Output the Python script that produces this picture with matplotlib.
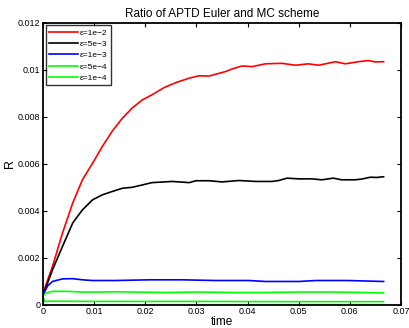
import matplotlib
matplotlib.use("Agg")
import matplotlib.pyplot as plt

plt.rcParams['font.family'] = ['Liberation Sans', 'DejaVu Sans']

# === Dados ===
t_red = [0, 0.00185, 0.0038, 0.0058, 0.0077, 0.0097, 0.0116, 0.0135, 0.0155, 0.0174,
         0.0194, 0.0213, 0.0237, 0.0260, 0.0286, 0.0305, 0.0325, 0.0345, 0.0357, 0.0370,
         0.0389, 0.0409, 0.0435, 0.0467, 0.0494, 0.0519, 0.0539, 0.0572, 0.0591, 0.0617,
         0.0636, 0.0650, 0.0666]
r_red = [0.0005, 0.00163, 0.00305, 0.00433, 0.00532, 0.00603, 0.00674, 0.00738, 0.00794, 0.00837,
         0.00872, 0.00894, 0.00925, 0.00946, 0.00965, 0.00975, 0.00974, 0.00986, 0.00993, 0.01004,
         0.01017, 0.01014, 0.01026, 0.01028, 0.0102, 0.01026, 0.0102, 0.01035, 0.01026, 0.01035,
         0.0104, 0.01034, 0.01035]

t_black = [0, 0.00185, 0.0038, 0.0058, 0.0077, 0.0097, 0.0116, 0.0135, 0.0155, 0.0174,
           0.0194, 0.0213, 0.0253, 0.0286, 0.0299, 0.0325, 0.0350, 0.0383, 0.0416, 0.0448,
           0.0461, 0.0477, 0.0500, 0.0526, 0.0545, 0.0568, 0.0584, 0.0610, 0.0623, 0.0640,
           0.0653, 0.0666]
r_black = [0.0004, 0.00149, 0.00248, 0.00348, 0.00404, 0.00447, 0.00468, 0.00482, 0.00496, 0.005,
           0.0051, 0.0052, 0.00525, 0.0052, 0.00528, 0.00528, 0.00523, 0.00529, 0.00525, 0.00525,
           0.00529, 0.00539, 0.00536, 0.00536, 0.00532, 0.00539, 0.00532, 0.00532, 0.00535, 0.00543,
           0.00542, 0.00545]

t_blue = [0, 0.0009, 0.00185, 0.0038, 0.0058, 0.0077, 0.0097, 0.0141, 0.0208, 0.0272,
          0.0338, 0.0403, 0.0435, 0.0500, 0.0533, 0.0597, 0.0630, 0.0666]
r_blue = [0.00043, 0.0008, 0.00099, 0.0011, 0.00111, 0.00106, 0.00103, 0.00103, 0.00106, 0.00106,
          0.00103, 0.00103, 0.00099, 0.00099, 0.00103, 0.00103, 0.00101, 0.00099]

t_g1 = [0, 0.0006, 0.0019, 0.0045, 0.0078, 0.0110, 0.0141, 0.0240, 0.0305, 0.0370,
        0.0435, 0.0500, 0.0565, 0.0630, 0.0666]
r_g1 = [0.0004, 0.0005, 0.00057, 0.00057, 0.00054, 0.00054, 0.00055, 0.00052, 0.00054, 0.00052,
        0.00052, 0.00054, 0.00054, 0.00052, 0.0005]

t_g2 = [0, 0.0003, 0.0013, 0.0110, 0.0300, 0.0500, 0.0666]
r_g2 = [0.00033, 0.00014, 0.00015, 0.00014, 0.00014, 0.00013, 0.00013]

series = [
    (t_red, r_red, "red", "ε=1e−2"),
    (t_black, r_black, "black", "ε=5e−3"),
    (t_blue, r_blue, "blue", "ε=1e−3"),
    (t_g1, r_g1, "lime", "ε=5e−4"),
    (t_g2, r_g2, "lime", "ε=1e−4"),
]

fig = plt.figure(figsize=(4.1, 3.28), dpi=100)
ax = fig.add_axes([0.105, 0.071, 0.873, 0.859])

for t, r, cor, nome in series:
    ax.plot(t, r, color=cor, linewidth=1.2, label=nome)

ax.set_xlim(0, 0.07)
ax.set_ylim(0, 0.012)
ax.set_xticks([0, 0.01, 0.02, 0.03, 0.04, 0.05, 0.06, 0.07])
ax.set_xticklabels(["0", "0.01", "0.02", "0.03", "0.04", "0.05", "0.06", "0.07"])
ax.set_yticks([0, 0.002, 0.004, 0.006, 0.008, 0.01, 0.012])
ax.set_yticklabels(["0", "0.002", "0.004", "0.006", "0.008", "0.01", "0.012"])
ax.tick_params(direction="in", top=True, right=True, labelsize=6.5, length=3, width=0.8, pad=2)
for s in ax.spines.values():
    s.set_linewidth(1.3)

ax.set_title("Ratio of APTD Euler and MC scheme", fontsize=8.5, pad=4)
ax.set_xlabel("time", fontsize=8.5, labelpad=0)
ax.set_ylabel("R", fontsize=9, labelpad=1)

leg = ax.legend(loc="upper left", fontsize=6, frameon=True, fancybox=False,
                edgecolor="black", handlelength=3.4, labelspacing=0.4,
                borderpad=0.45, handletextpad=0.3, borderaxespad=0.3)
leg.get_frame().set_linewidth(1.0)

fig.savefig("out.png", dpi=100)
